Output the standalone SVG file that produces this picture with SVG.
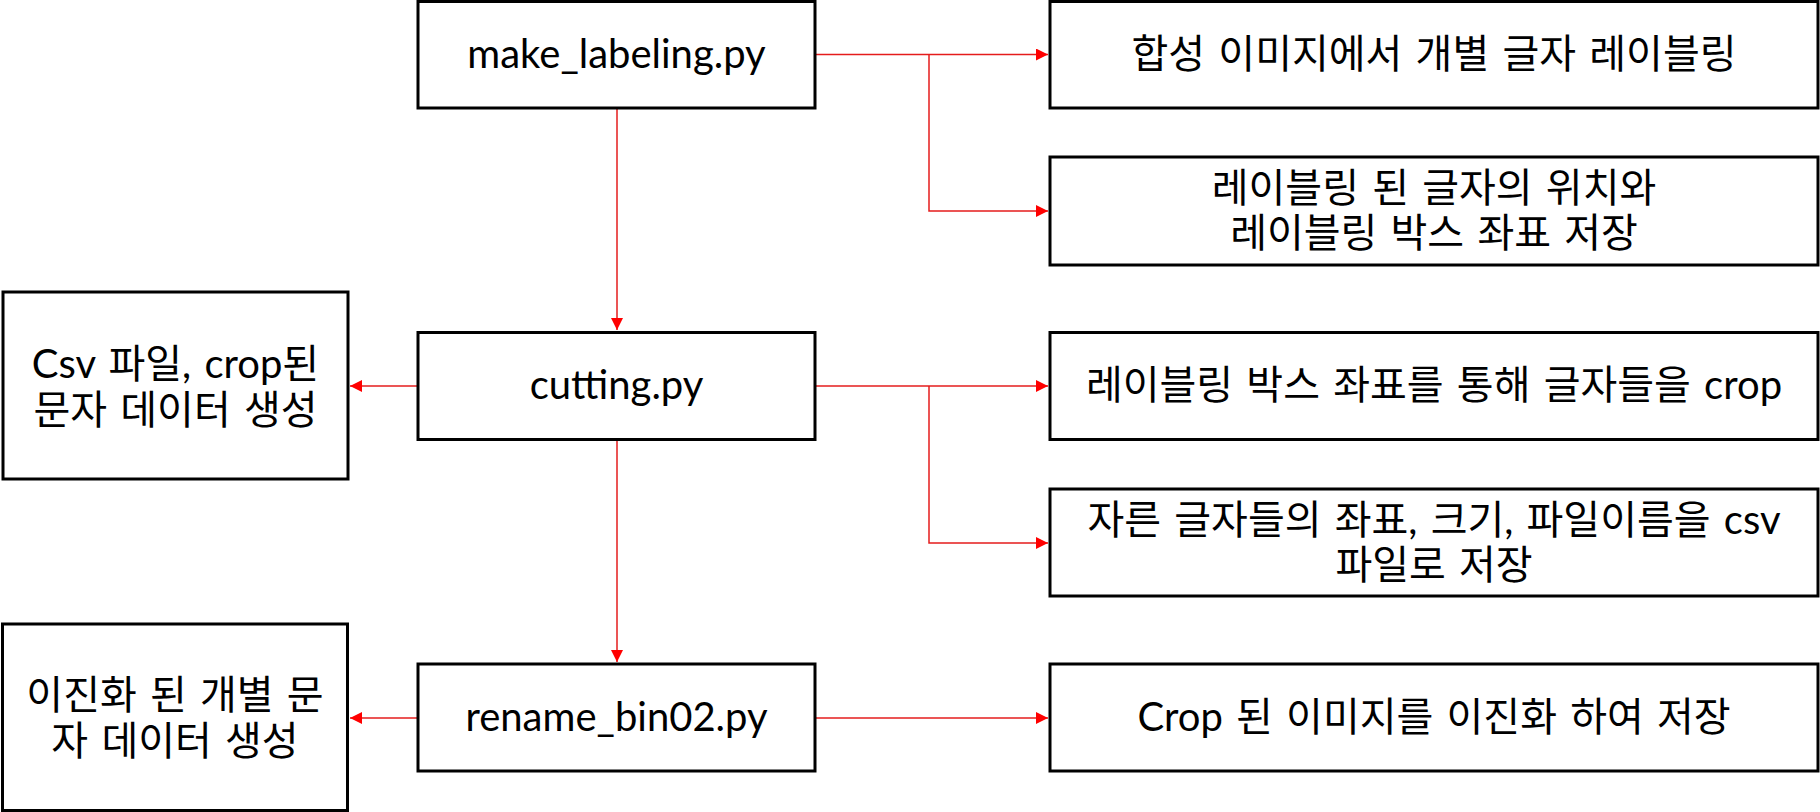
<svg xmlns="http://www.w3.org/2000/svg" width="1820" height="812" viewBox="0 0 1820 812">
  <style>
    .box { fill: #ffffff; stroke: #000000; stroke-width: 3; }
    .t { font-family: Lato, "Noto Sans CJK KR", sans-serif; font-size: 40px; fill: #000000; text-anchor: middle; word-spacing: 3px; }
    .c { fill: none; stroke: #e51c1c; stroke-width: 1.5; }
  </style>
  <defs>
    <marker id="arr" markerUnits="userSpaceOnUse" markerWidth="13" markerHeight="13" refX="12" refY="6" orient="auto">
      <path d="M0,0 L12,6 L0,12 z" fill="#ff0000"/>
    </marker>
  </defs>
  <rect width="1820" height="812" fill="#ffffff"/>

  <g id="connectors">
    <path class="c" d="M815,54.5 H1048" marker-end="url(#arr)"/>
    <path class="c" d="M929,54.5 V211 H1048" marker-end="url(#arr)"/>
    <path class="c" d="M617,108 V330" marker-end="url(#arr)"/>
    <path class="c" d="M815,386 H1048" marker-end="url(#arr)"/>
    <path class="c" d="M929,386 V543 H1048" marker-end="url(#arr)"/>
    <path class="c" d="M418,386 H350" marker-end="url(#arr)"/>
    <path class="c" d="M617,440 V662" marker-end="url(#arr)"/>
    <path class="c" d="M418,718 H350" marker-end="url(#arr)"/>
    <path class="c" d="M815,718 H1048" marker-end="url(#arr)"/>
  </g>

  <g id="make_labeling">
    <rect class="box" x="418" y="1.5" width="397" height="106.5"/>
    <text class="t" x="616.5" y="68">make_labeling.py</text>
  </g>
  <g id="cutting">
    <rect class="box" x="418" y="332.5" width="397" height="107"/>
    <text class="t" x="616.5" y="399">cutting.py</text>
  </g>
  <g id="rename_bin02">
    <rect class="box" x="418" y="664" width="397" height="107"/>
    <text class="t" x="616.5" y="731">rename_bin02.py</text>
  </g>

  <g id="csv_output">
    <rect class="box" x="3" y="292" width="345" height="187"/>
    <text class="t" x="175.5" y="378">Csv 파일, crop된</text>
    <text class="t" x="175.5" y="424">문자 데이터 생성</text>
  </g>
  <g id="bin_output">
    <rect class="box" x="2.5" y="624" width="345" height="186.5"/>
    <text class="t" x="175" y="709">이진화 된 개별 문</text>
    <text class="t" x="175" y="755">자 데이터 생성</text>
  </g>

  <g id="labeling_desc">
    <rect class="box" x="1050" y="1.5" width="768" height="106.5"/>
    <text class="t" x="1434" y="68">합성 이미지에서 개별 글자 레이블링</text>
  </g>
  <g id="position_desc">
    <rect class="box" x="1050" y="157" width="768" height="108"/>
    <text class="t" x="1434" y="202">레이블링 된 글자의 위치와</text>
    <text class="t" x="1434" y="247">레이블링 박스 좌표 저장</text>
  </g>
  <g id="crop_desc">
    <rect class="box" x="1050" y="332.5" width="768" height="107"/>
    <text class="t" x="1434" y="399">레이블링 박스 좌표를 통해 글자들을 crop</text>
  </g>
  <g id="csv_desc">
    <rect class="box" x="1050" y="489" width="768" height="107"/>
    <text class="t" x="1434" y="534">자른 글자들의 좌표, 크기, 파일이름을 csv</text>
    <text class="t" x="1434" y="579">파일로 저장</text>
  </g>
  <g id="binarize_desc">
    <rect class="box" x="1050" y="664" width="768" height="107"/>
    <text class="t" x="1434" y="731">Crop 된 이미지를 이진화 하여 저장</text>
  </g>
</svg>
